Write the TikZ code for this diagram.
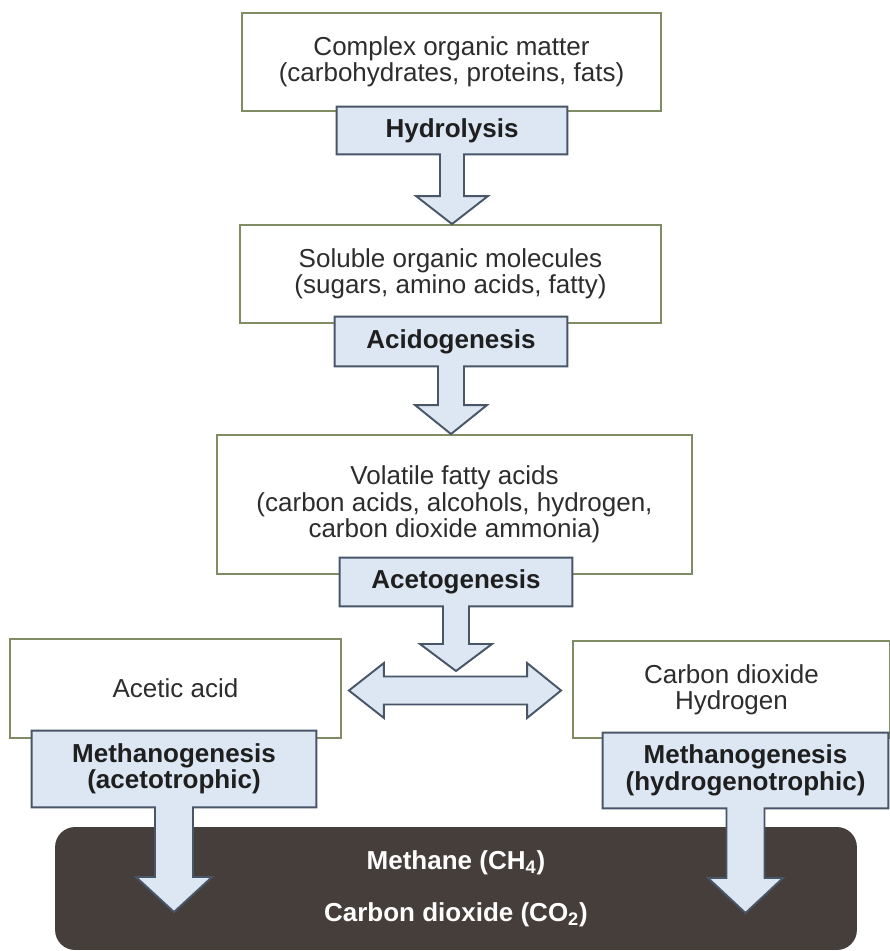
\documentclass[tikz,border=0pt]{standalone}
\usepackage{fontspec}
\setmainfont{Liberation Sans}
\usetikzlibrary{calc}

\definecolor{boxline}{RGB}{128,140,100}
\definecolor{textgray}{RGB}{45,45,45}
\definecolor{stageline}{RGB}{72,86,104}
\definecolor{stagefill}{RGB}{221,231,243}
\definecolor{prodfill}{RGB}{69,62,59}

\pgfdeclarelayer{back}
\pgfdeclarelayer{mid}
\pgfsetlayers{back,mid,main}

\begin{document}
\begin{tikzpicture}[x=0.02cm,y=-0.02cm,
  every node/.style={font=\fontsize{14.8}{15}\selectfont, align=center, inner sep=0pt},
  matter/.style={draw=boxline, line width=1.1pt, fill=white, text=textgray},
  stage/.style={font=\fontsize{14.8}{15}\selectfont\bfseries, text=black!88},
  flow/.style={draw=stageline, line width=1.1pt, fill=stagefill, line join=miter},
  product/.style={fill=prodfill, rounded corners=0.4cm, text=white,
    font=\fontsize{14.8}{15}\selectfont\bfseries}]

  \useasboundingbox (0,0) rectangle (890,951);

  % substrates and products
  \begin{pgfonlayer}{back}
  \node[matter, minimum width=8.38cm, minimum height=1.96cm] (cmplx) at (451.5,62)
    {Complex organic matter\\(carbohydrates, proteins, fats)};
  \node[matter, minimum width=8.42cm, minimum height=1.96cm] (solub) at (450.5,274)
    {Soluble organic molecules\\(sugars, amino acids, fatty)};
  \node[matter, minimum width=9.5cm, minimum height=2.78cm] (vfa) at (454.5,504.5)
    {Volatile fatty acids\\(carbon acids, alcohols, hydrogen,\\carbon dioxide ammonia)};
  \node[matter, minimum width=6.62cm, minimum height=1.98cm] (acetic) at (175.5,688.5)
    {Acetic acid};
  \node[matter, minimum width=6.34cm, minimum height=1.94cm] (cdh) at (731.5,689.5)
    {Carbon dioxide\\Hydrogen};
  \node[product, minimum width=16.04cm, minimum height=2.46cm] (prod) at (456,888.5)
    {Methane (CH\textsubscript{4})\\[14.6pt]Carbon dioxide (CO\textsubscript{2})};
  \end{pgfonlayer}

  % process stages
  \node[stage, minimum width=4.6cm, minimum height=0.94cm] (hydro) at (452,130.5) {Hydrolysis};
  \node[stage, minimum width=4.64cm, minimum height=0.98cm] (acido) at (451,341.5) {Acidogenesis};
  \node[stage, minimum width=4.64cm, minimum height=0.96cm] (aceto) at (456,582) {Acetogenesis};
  \node[stage, minimum width=5.68cm, minimum height=1.52cm] (methA) at (174,769)
    {Methanogenesis\\(acetotrophic)};
  \node[stage, minimum width=5.7cm, minimum height=1.5cm] (methH) at (745.5,770.5)
    {Methanogenesis\\(hydrogenotrophic)};

  \coordinate (t3) at (aceto.south |- 0,671);
  \coordinate (t4) at (methA.south |- 0,912);
  \coordinate (t5) at (methH.south |- 0,913);

  \begin{pgfonlayer}{mid}
  \foreach \p/\t/\s/\h/\l in {hydro/solub.north/12/36/28, acido/vfa.north/13/36/29,
      aceto/t3/13/36/27, methA/t4/19/38/35, methH/t5/19/37.5/35}
    \draw[flow] (\p.north west) -- (\p.north east) -- (\p.south east)
      -- ($(\p.south)+(\s,0)$) -- ($(\p.south |- \t)+(\s,-\l)$)
      -- ($(\p.south |- \t)+(\h,-\l)$) -- (\p.south |- \t)
      -- ($(\p.south |- \t)+(-\h,-\l)$) -- ($(\p.south |- \t)+(-\s,-\l)$)
      -- ($(\p.south)+(-\s,0)$) -- (\p.south west) -- cycle;
  \end{pgfonlayer}

  % two-way exchange
  \coordinate (dl) at ($(acetic.east)+(7,2)$);
  \coordinate (dr) at ($(acetic.east -| cdh.west)+(-11,2)$);
  \draw[flow] (dl) -- ++(35,-27.5) -- ++(0,13.5) -- ($(dr)+(-34,-14)$) -- ++(0,-13.5)
    -- (dr) -- ++(-34,27.5) -- ++(0,-13.5) -- ($(dl)+(35,14)$) -- ++(0,13.5) -- cycle;
\end{tikzpicture}
\end{document}
